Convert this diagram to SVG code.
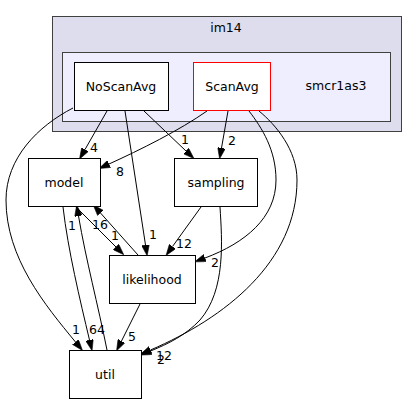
<svg xmlns="http://www.w3.org/2000/svg" width="417" height="404" viewBox="0 0 417 404">
<style>
text{font-family:"DejaVu Sans","Liberation Sans",sans-serif;font-size:12.5px;fill:#000;text-anchor:middle}
.node{fill:#fff;stroke:#000;stroke-width:1}
.edge{fill:none;stroke:#000;stroke-width:1}
</style>
<defs>
<marker id="ah" markerUnits="userSpaceOnUse" markerWidth="11" markerHeight="8" viewBox="0 0 10 7" refX="0" refY="3.5" orient="auto">
<path d="M0,0 L10,3.5 L0,7 z" fill="#000" stroke="#000" stroke-width="0.5"/>
</marker>
</defs>
<rect width="417" height="404" fill="#fff"/>
<g id="cluster_im14">
<rect x="52.5" y="16.5" width="349" height="115" fill="#ddddee" stroke="#404040" stroke-width="1"/>
<text x="226" y="32">im14</text>
</g>
<g id="cluster_smcr1as3">
<rect x="62.5" y="52.5" width="328" height="69" fill="#eeeeff" stroke="#404040" stroke-width="1"/>
<text x="336" y="90">smcr1as3</text>
</g>
<g id="edges">
<path class="edge" marker-end="url(#ah)" d="M107,111 L85,149.5"/>
<text x="94" y="152">4</text>
<path class="edge" marker-end="url(#ah)" d="M207,111 C180,130 140,150 109,164"/>
<text x="120" y="176">8</text>
<path class="edge" marker-end="url(#ah)" d="M144,111 L186,151"/>
<text x="185" y="144">1</text>
<path class="edge" marker-end="url(#ah)" d="M228,111 L221.5,148"/>
<text x="232" y="145">2</text>
<path class="edge" marker-end="url(#ah)" d="M125,111 L145.5,245"/>
<text x="153" y="239">1</text>
<path class="edge" marker-end="url(#ah)" d="M201,207 L172.5,246.5"/>
<text x="184" y="248">12</text>
<path class="edge" marker-end="url(#ah)" d="M249,111 C262,128 276,150 276,180 C276,218 245,243 205,258"/>
<text x="215" y="267">2</text>
<path class="edge" marker-end="url(#ah)" d="M259,111 C276,125 297,150 297,180 C297,262 225,318 150.5,350"/>
<text x="164" y="360">12</text>
<path class="edge" marker-end="url(#ah)" d="M220,207 C222,240 226,290 200,320 C186,335 168,344 150.5,351"/>
<text x="161" y="364">2</text>
<path class="edge" marker-end="url(#ah)" d="M76,207 L116,247"/>
<text x="115" y="240">1</text>
<path class="edge" marker-end="url(#ah)" d="M138,255 L100.5,213"/>
<text x="100" y="229">16</text>
<path class="edge" marker-end="url(#ah)" d="M63,207 C68,250 80,300 89.5,340"/>
<text x="97" y="334">64</text>
<path class="edge" marker-end="url(#ah)" d="M107,350 C98,305 86,260 78.5,216"/>
<text x="72" y="230">1</text>
<path class="edge" marker-end="url(#ah)" d="M140,304 L121.5,341"/>
<text x="132" y="341">5</text>
<path class="edge" marker-end="url(#ah)" d="M73,108 C38,126 6,158 6,200 C6,258 45,305 75.5,342"/>
<text x="76" y="334">1</text>
</g>
<g id="NoScanAvg">
<rect class="node" x="74.5" y="62.5" width="94" height="48"/>
<text x="121" y="91">NoScanAvg</text>
</g>
<g id="ScanAvg">
<rect class="node" x="193.5" y="62.5" width="77" height="48" style="stroke:#ff0000"/>
<text x="232" y="91">ScanAvg</text>
</g>
<g id="model">
<rect class="node" x="28.5" y="158.5" width="72" height="48"/>
<text x="64" y="187">model</text>
</g>
<g id="sampling">
<rect class="node" x="174.5" y="158.5" width="83" height="48"/>
<text x="216" y="187">sampling</text>
</g>
<g id="likelihood">
<rect class="node" x="109.5" y="255.5" width="86" height="48"/>
<text x="152" y="284">likelihood</text>
</g>
<g id="util">
<rect class="node" x="69.5" y="350.5" width="72" height="48"/>
<text x="105" y="379">util</text>
</g>
</svg>
